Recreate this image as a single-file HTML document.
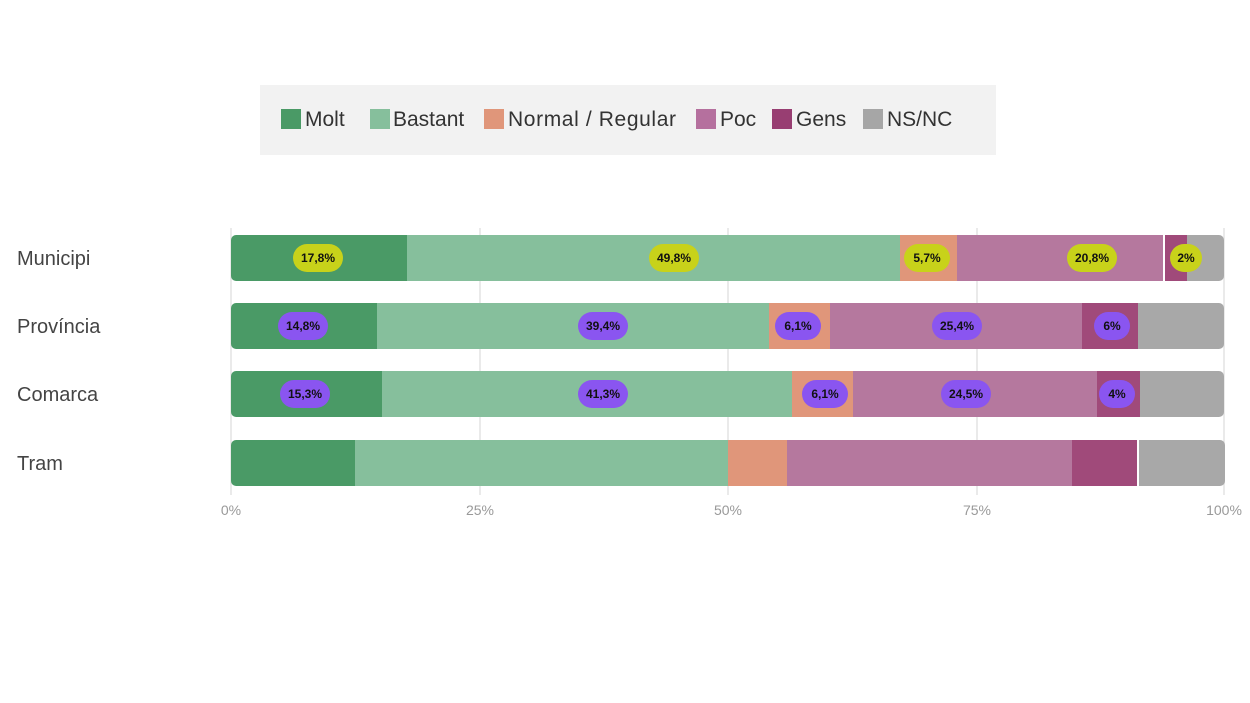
<!DOCTYPE html>
<html><head><meta charset="utf-8"><style>
html,body{margin:0;padding:0;background:#fff;}
svg{display:block;font-family:"Liberation Sans",sans-serif;}
</style></head><body>
<svg width="1250" height="703" viewBox="0 0 1250 703">
<rect x="260" y="85" width="736" height="70" fill="#f2f2f2"/>
<g font-size="21" fill="#333">
<rect x="281" y="109" width="20" height="20" fill="#4a9a66"/><text x="305" y="126">Molt</text>
<rect x="370" y="109" width="20" height="20" fill="#86bf9c"/><text x="393" y="126">Bastant</text>
<rect x="484" y="109" width="20" height="20" fill="#e0967a"/><text x="508" y="126" textLength="168">Normal / Regular</text>
<rect x="696" y="109" width="20" height="20" fill="#b5709e"/><text x="720" y="126">Poc</text>
<rect x="772" y="109" width="20" height="20" fill="#983e72"/><text x="796" y="126">Gens</text>
<rect x="863" y="109" width="20" height="20" fill="#a6a6a6"/><text x="887" y="126">NS/NC</text>
</g>
<g stroke="#e3e3e3" stroke-width="1.5">
<line x1="231" y1="228" x2="231" y2="495"/><line x1="480" y1="228" x2="480" y2="495"/><line x1="728" y1="228" x2="728" y2="495"/><line x1="977" y1="228" x2="977" y2="495"/><line x1="1224" y1="228" x2="1224" y2="495"/>
</g>
<g font-size="14" fill="#999" text-anchor="middle">
<text x="231" y="515">0%</text><text x="480" y="515">25%</text><text x="728" y="515">50%</text><text x="977" y="515">75%</text><text x="1224" y="515">100%</text>
</g>
<g font-size="20" fill="#444">
<text x="17" y="265">Municipi</text><text x="17" y="333">Província</text><text x="17" y="401">Comarca</text><text x="17" y="470">Tram</text>
</g>
<defs><clipPath id="c1"><rect x="231" y="235" width="993" height="46" rx="5"/></clipPath>
<clipPath id="c2"><rect x="231" y="303" width="993" height="46" rx="5"/></clipPath>
<clipPath id="c3"><rect x="231" y="371" width="993" height="46" rx="5"/></clipPath>
<clipPath id="c4"><rect x="231" y="440" width="994" height="46" rx="5"/></clipPath></defs>
<g clip-path="url(#c1)">
<rect x="231" y="235" width="176" height="46" fill="#4a9a66"/><rect x="407" y="235" width="493" height="46" fill="#86bf9c"/><rect x="900" y="235" width="57" height="46" fill="#e0967a"/><rect x="957" y="235" width="206" height="46" fill="#b5789e"/><rect x="1163" y="235" width="2" height="46" fill="#fff"/><rect x="1165" y="235" width="22" height="46" fill="#a04a7a"/><rect x="1187" y="235" width="40" height="46" fill="#a8a8a8"/>
</g>
<g clip-path="url(#c2)">
<rect x="231" y="303" width="146" height="46" fill="#4a9a66"/><rect x="377" y="303" width="392" height="46" fill="#86bf9c"/><rect x="769" y="303" width="61" height="46" fill="#e0967a"/><rect x="830" y="303" width="252" height="46" fill="#b5789e"/><rect x="1082" y="303" width="56" height="46" fill="#a04a7a"/><rect x="1138" y="303" width="90" height="46" fill="#a8a8a8"/>
</g>
<g clip-path="url(#c3)">
<rect x="231" y="371" width="151" height="46" fill="#4a9a66"/><rect x="382" y="371" width="410" height="46" fill="#86bf9c"/><rect x="792" y="371" width="61" height="46" fill="#e0967a"/><rect x="853" y="371" width="244" height="46" fill="#b5789e"/><rect x="1097" y="371" width="43" height="46" fill="#a04a7a"/><rect x="1140" y="371" width="88" height="46" fill="#a8a8a8"/>
</g>
<g clip-path="url(#c4)">
<rect x="231" y="440" width="124" height="46" fill="#4a9a66"/><rect x="355" y="440" width="373" height="46" fill="#86bf9c"/><rect x="728" y="440" width="59" height="46" fill="#e0967a"/><rect x="787" y="440" width="285" height="46" fill="#b5789e"/><rect x="1072" y="440" width="65" height="46" fill="#a04a7a"/><rect x="1137" y="440" width="2" height="46" fill="#fff"/><rect x="1139" y="440" width="90" height="46" fill="#a8a8a8"/>
</g>
<g font-size="12" font-weight="bold" fill="#111" text-anchor="middle">
<g fill="#c8d21a"><rect x="293" y="244" width="50" height="28" rx="14"/><rect x="649" y="244" width="50" height="28" rx="14"/><rect x="904" y="244" width="46" height="28" rx="14"/><rect x="1067" y="244" width="50" height="28" rx="14"/><rect x="1170" y="244" width="32" height="28" rx="14"/></g>
<text x="318" y="262">17,8%</text><text x="674" y="262">49,8%</text><text x="927" y="262">5,7%</text><text x="1092" y="262">20,8%</text><text x="1186" y="262">2%</text>
<g fill="#8a55f0"><rect x="278" y="312" width="50" height="28" rx="14"/><rect x="578" y="312" width="50" height="28" rx="14"/><rect x="775" y="312" width="46" height="28" rx="14"/><rect x="932" y="312" width="50" height="28" rx="14"/><rect x="1094" y="312" width="36" height="28" rx="14"/>
<rect x="280" y="380" width="50" height="28" rx="14"/><rect x="578" y="380" width="50" height="28" rx="14"/><rect x="802" y="380" width="46" height="28" rx="14"/><rect x="941" y="380" width="50" height="28" rx="14"/><rect x="1099" y="380" width="36" height="28" rx="14"/></g>
<text x="303" y="330">14,8%</text><text x="603" y="330">39,4%</text><text x="798" y="330">6,1%</text><text x="957" y="330">25,4%</text><text x="1112" y="330">6%</text>
<text x="305" y="398">15,3%</text><text x="603" y="398">41,3%</text><text x="825" y="398">6,1%</text><text x="966" y="398">24,5%</text><text x="1117" y="398">4%</text>
</g>
</svg>
</body></html>
